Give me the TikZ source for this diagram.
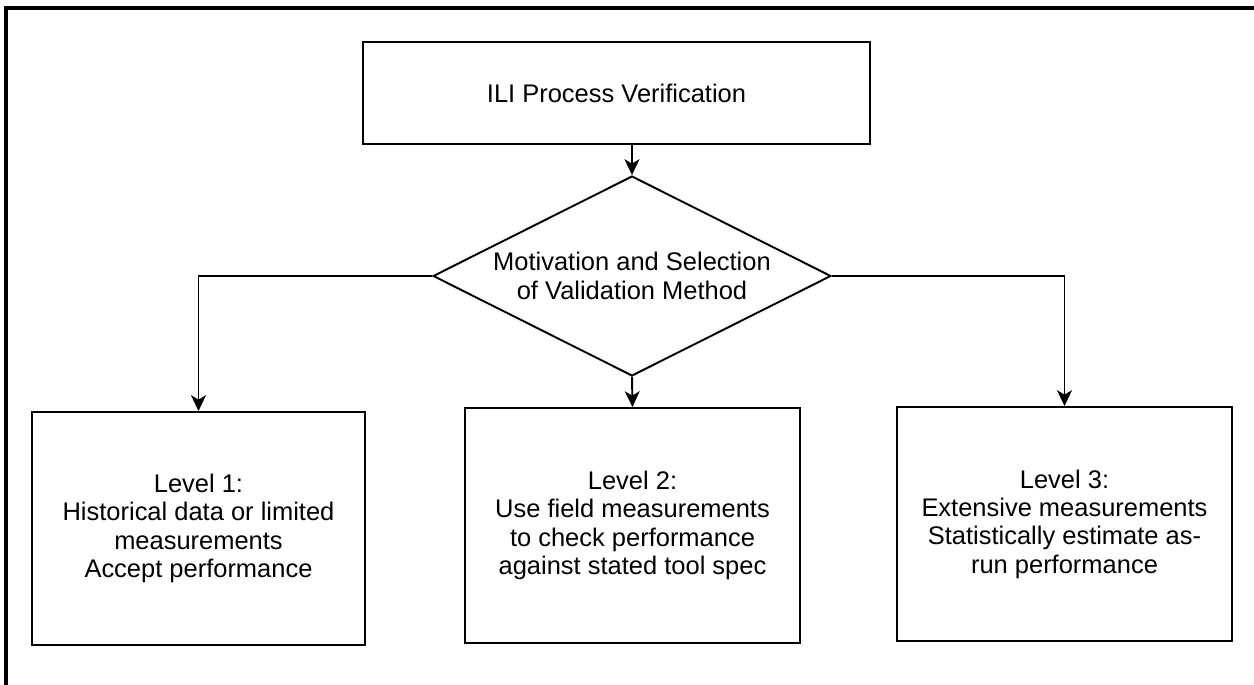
\documentclass[tikz,border=0pt]{standalone}
\usepackage{fontspec}
\setmainfont{Liberation Sans}
\usepackage{tikz}
\usetikzlibrary{shapes.geometric,arrows.meta}

\tikzset{
  box/.style={draw,line width=1.1pt,align=center,inner sep=0pt},
  decision/.style={diamond,draw,line width=1.1pt,align=center,inner sep=0pt,aspect=2,
    minimum width=7.96cm,minimum height=4cm},
  arr/.style={line width=1.1pt,-{Stealth[length=9pt,width=8.5pt,inset=2.5pt]}}
}

\begin{document}
\begin{tikzpicture}[x=0.02cm,y=-0.02cm,
  every node/.style={font=\fontsize{14.5}{16.1}\selectfont}]
\useasboundingbox (0,0) rectangle (1254,685);
\draw[line width=2pt] (1254,8) -- (6,8) -- (6,685);

\node[box,minimum width=10.14cm,minimum height=2.04cm] (ilipv) at (616.5,93) {ILI Process Verification};
\node[decision] (motiv) at (632,276) {Motivation and Selection\\of Validation Method};

\node[box,minimum width=6.66cm,minimum height=4.66cm] (lvl1) at (198.5,528.5)
  {Level 1:\\Historical data or limited\\measurements\\Accept performance};
\node[box,minimum width=6.70cm,minimum height=4.70cm] (lvl2) at (632.5,525.5)
  {Level 2:\\Use field measurements\\to check performance\\against stated tool spec};
\node[box,minimum width=6.70cm,minimum height=4.68cm] (lvl3) at (1064.5,524)
  {Level 3:\\Extensive measurements\\Statistically estimate as-\\run performance};

\draw[arr] (motiv.north |- ilipv.south) -- (motiv.north);
\draw[arr] (motiv.west) -| (lvl1.north);
\draw[arr] (motiv.south) -- (lvl2.north);
\draw[arr] (motiv.east) -| (lvl3.north);
\end{tikzpicture}
\end{document}
